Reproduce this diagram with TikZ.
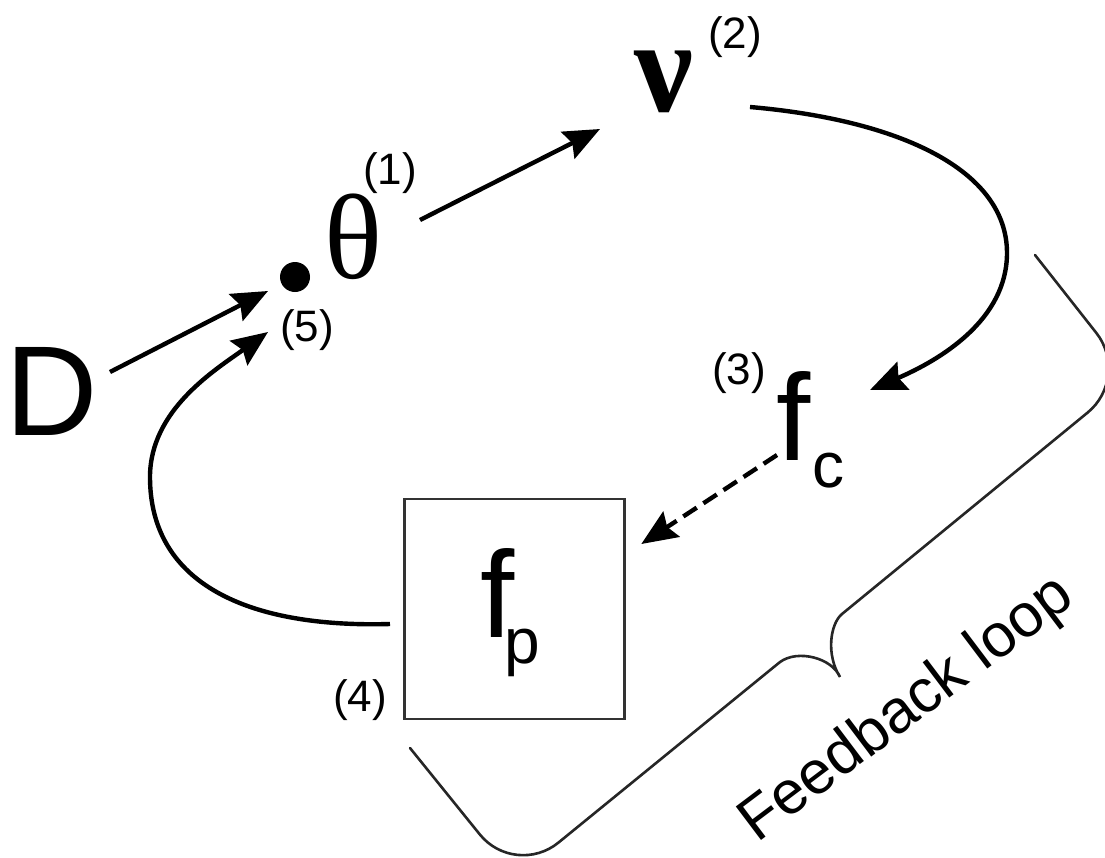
\documentclass[tikz,border=0pt]{standalone}
\usepackage{fontspec}
\setmainfont{Liberation Sans}
\newfontfamily\serifgreek{Liberation Serif}
\usetikzlibrary{arrows.meta,calc}
\newcommand\setfs[1]{\fontsize{#1pt}{#1pt}\selectfont}
\begin{document}
\begin{tikzpicture}[x=0.5pt,y=-0.5pt,
  txt/.style={inner sep=0pt, outer sep=0pt},
  lbl/.style={txt, anchor=base, font=\setfs{22}},
  arr/.style={line width=2.2pt, -{Stealth[length=18pt,width=15pt,inset=2.5pt]}},
  dasharr/.style={arr, dash pattern=on 8pt off 4pt},
  brc/.style={line width=1.3pt, black!85, line cap=round}]
\useasboundingbox (0,0) rectangle (1105,858);
\clip (0,0) rectangle (1105,858);

% nodes
\node[txt, anchor=base west, font=\setfs{64}] (D) at (5,435) {D};
\node[circle, fill=black, inner sep=0pt, minimum size=15pt] (dot) at (295,277) {};
\node[txt, anchor=base, font=\serifgreek\setfs{60.5}] (theta) at (353,278) {θ};
\node[txt, anchor=base, font=\serifgreek\bfseries\setfs{66}] (nu) at (664,111) {ν};
\node[lbl] (l1) at (390,184) {(1)};
\node[lbl] (l2) at (735,48) {(2)};
\node[lbl] (l3) at (739,384) {(3)};
\node[lbl] (l4) at (360,711) {(4)};
\node[lbl] (l5) at (307,341) {(5)};
\node[txt, anchor=base west] (fc) at (776,460)
  {\setfs{61.5}f\kern1pt\raisebox{-13.5pt}{\setfs{32}c}};
\node[draw=black!80, line width=1.3pt, minimum width=110pt, minimum height=110pt,
  inner sep=0pt] (fpbox) at (514.3,609) {};
\node[txt, anchor=base west] (fp) at (480.5,637)
  {\setfs{61.5}f\kern-5.3pt\raisebox{-13pt}{\setfs{32}p}};
\node[txt, anchor=base west, rotate=37, font=\setfs{30.5}] (fb) at (757,843) {Feedback loop};

% connectors
\draw[arr] ($(D.base west)+(105,-63)$) -- ($(dot.center)+(-27,14)$);
\draw[arr] ($(theta.base)+(67,-58)$) -- ($(nu.base)+(-64,18)$);
\draw[arr] ($(nu.base)+(86,-4)$) .. controls +(150,13) and +(0,-83) .. (1007,253)
  .. controls +(0,67) and +(70,-30) .. ($(fc.base west)+(94,-70)$);
\draw[dasharr] ($(fc.base west)+(1,-5)$) -- ($(fpbox.center)+(127,-65)$);
\draw[arr] ($(fpbox.center)+(-124.3,15)$) .. controls +(-140,4) and +(0,108) .. (150,477)
  .. controls +(0,-67) and +(-53,38) .. ($(l5.base)+(-39,-9)$);

% brace
\draw[brc, rounded corners=28pt] (1035,255) -- (1131,377) -- (842,614);
\draw[brc] (842,614) .. controls (830,624) and (826,655) .. (840,677)
  .. controls (832,658) and (798,649) .. (780,662);
\draw[brc, rounded corners=28pt] (780,662) -- (515,878) -- (410,748);
\end{tikzpicture}
\end{document}
